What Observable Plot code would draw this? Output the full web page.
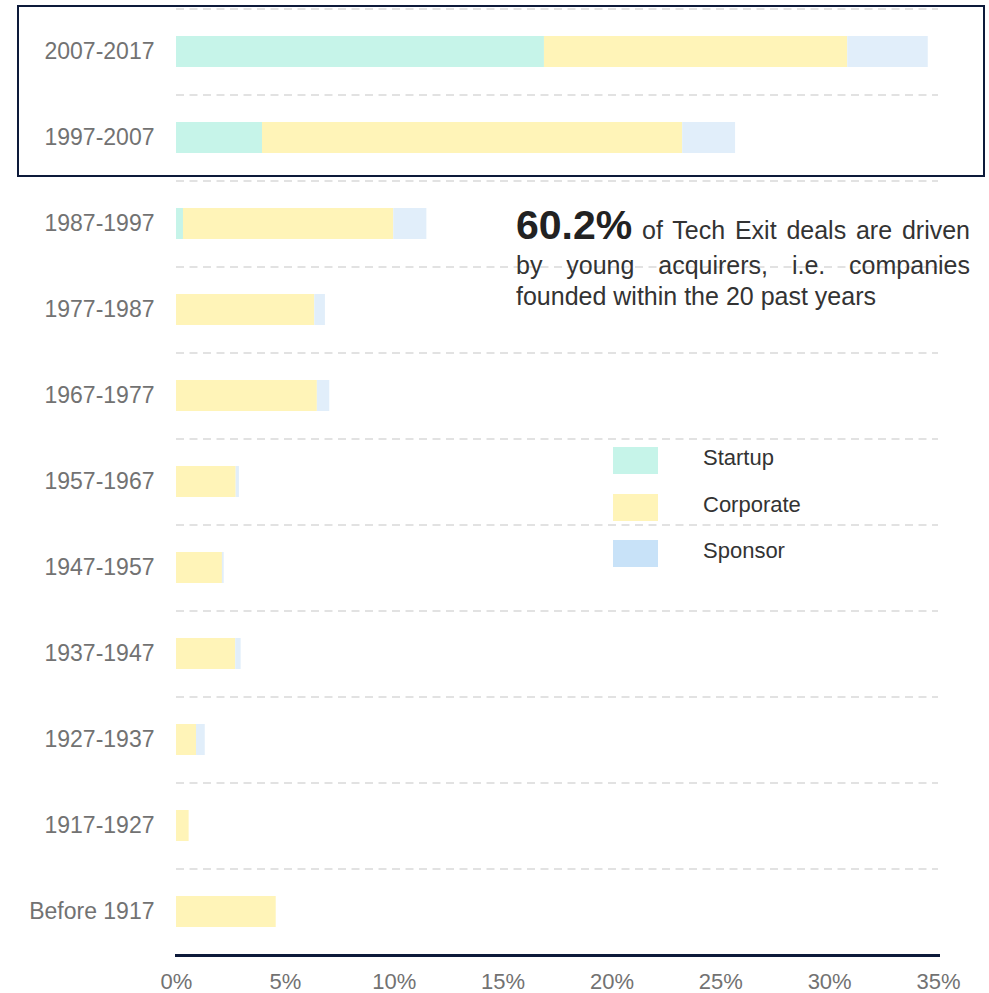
<!DOCTYPE html>
<html><head><meta charset="utf-8">
<script src="https://cdn.jsdelivr.net/npm/d3@7"></script>
<script src="https://cdn.jsdelivr.net/npm/@observablehq/plot@0.6"></script>
<style>
body{margin:0;background:#fff;font-family:"Liberation Sans",Arial,sans-serif;}
#wrap{position:relative;width:989px;height:993px;overflow:hidden;}
#wrap svg{position:absolute;left:0;top:0;}
#box{position:absolute;left:17px;top:5px;width:968px;height:172px;border:2px solid #0d1a3a;box-sizing:border-box;}
#note{position:absolute;left:516px;top:210px;width:454px;font-size:25px;line-height:31px;color:#333;}
#note .j{text-align:justify;text-align-last:justify;}
#note .first{padding-bottom:4px;}
#note .big{font-size:41px;font-weight:bold;color:#222;}
#legend{position:absolute;left:613px;top:447px;}
#legend .row{display:flex;align-items:flex-start;height:46.7px;}
#legend .sw{width:45px;height:27px;}
#legend .lb{margin-left:45px;font-size:22px;line-height:22px;color:#333;}
</style></head><body><div id="wrap"></div>
<script>
const periods = ["2007-2017","1997-2007","1987-1997","1977-1987","1967-1977","1957-1967","1947-1957","1937-1947","1927-1937","1917-1927","Before 1917"];
const startup   = [16.9, 3.95, 0.32, 0, 0, 0, 0, 0, 0, 0, 0];
const corporate = [13.93, 19.3, 9.66, 6.35, 6.47, 2.74, 2.11, 2.72, 0.92, 0.58, 4.58];
const sponsor   = [3.7, 2.43, 1.52, 0.49, 0.57, 0.15, 0.08, 0.25, 0.4, 0, 0];
const seriesNames = ["Startup","Corporate","Sponsor"];
const barColors = ["#c6f4e9","#fff4b8","#e1eefa"];
const legendColors = ["#c6f4e9","#fff4b8","#c8e2f8"];
const xTicks = [0,5,10,15,20,25,30,35];
const noteBig = "60.2%";
const noteLines = [" of Tech Exit deals are driven","by young acquirers, i.e. companies","founded within the 20 past years"];

const seriesValues = [startup, corporate, sponsor];
const rows = periods.flatMap((p,i)=>seriesNames.map((s,k)=>({period:p,type:s,value:seriesValues[k][i]})));

const W=989,H=993,mT=7,mB=38,mL=176,mR=51;
const pIn=0.64,pOut=0.32;
const step=(H-mT-mB)/(periods.length-pIn+2*pOut);

const chart = Plot.plot({
  width:W,height:H,marginTop:mT,marginBottom:mB,marginLeft:mL,marginRight:mR,
  style:{fontFamily:"'Liberation Sans',Arial,sans-serif",fontSize:"22px",color:"#727272",background:"transparent"},
  x:{domain:[0,35],label:null},
  y:{domain:periods,paddingInner:pIn,paddingOuter:pOut,label:null},
  color:{domain:seriesNames,range:barColors},
  marks:[
    Plot.ruleY(periods,{y:d=>d,x1:0,x2:35,stroke:"#d9d9d9",strokeWidth:1.5,strokeDasharray:"8,5.5",dy:-step/2}),
    Plot.barX(rows,{x:"value",y:"period",fill:"type"}),
    Plot.axisX({ticks:xTicks,tickFormat:d=>d+"%",tickSize:0,tickPadding:18,fontSize:22,label:null}),
    Plot.axisY({tickSize:0,tickPadding:22,fontSize:23,label:null}),
    Plot.frame({anchor:"bottom",stroke:"#0d1a3a",strokeWidth:3})
  ]
});
const wrap=document.getElementById("wrap");
wrap.appendChild(chart);
const box=document.createElement("div");box.id="box";wrap.appendChild(box);
const note=document.createElement("div");note.id="note";
note.innerHTML=`<div class="j first"><span class="big">${noteBig}</span>${noteLines[0]}</div><div class="j">${noteLines[1]}</div><div>${noteLines[2]}</div>`;
wrap.appendChild(note);
const leg=document.createElement("div");leg.id="legend";
leg.innerHTML=seriesNames.map((s,i)=>`<div class="row"><div class="sw" style="background:${legendColors[i]}"></div><div class="lb">${s}</div></div>`).join("");
wrap.appendChild(leg);
</script></body></html>
